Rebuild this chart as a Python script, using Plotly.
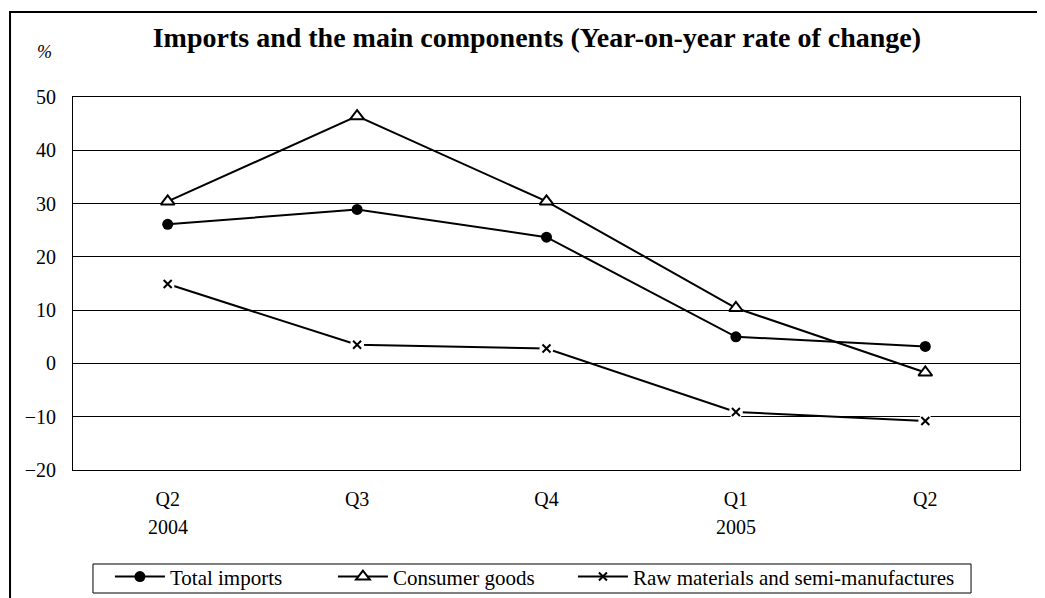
import plotly.graph_objects as go

categories = ["Q2 2004", "Q3 2004", "Q4 2004", "Q1 2005", "Q2 2005"]
tick_labels = ["Q2", "Q3", "Q4", "Q1", "Q2"]
year_labels = {"Q2 2004": "2004", "Q1 2005": "2005"}

total_imports = [26.1, 28.9, 23.7, 5.0, 3.2]
consumer_goods = [30.4, 46.4, 30.4, 10.4, -1.7]
raw_materials = [14.9, 3.5, 2.8, -9.1, -10.8]

FONT = "Liberation Serif, Times New Roman, serif"
FS = 20

fig = go.Figure()
fig.add_trace(go.Scatter(
    x=categories, y=total_imports, name="Total imports", mode="lines+markers",
    line=dict(color="black", width=2), legendwidth=158,
    marker=dict(symbol="circle", size=11, color="black"),
))
fig.add_trace(go.Scatter(
    x=categories, y=consumer_goods, name="Consumer goods", mode="lines+markers",
    line=dict(color="black", width=2), legendwidth=175,
    marker=dict(symbol="triangle-up", size=12, color="white", line=dict(width=2, color="black")),
))
fig.add_trace(go.Scatter(
    x=categories, y=raw_materials, name="Raw materials and semi-manufactures",
    mode="lines+markers", legendwidth=318,
    line=dict(color="black", width=2),
    marker=dict(symbol="x-thin", size=8, color="black", line=dict(width=2, color="black")),
))
# white halo behind the x markers, then the markers again on top
fig.add_trace(go.Scatter(
    x=categories, y=raw_materials, mode="markers", showlegend=False, hoverinfo="skip",
    marker=dict(symbol="circle", size=14, color="white"),
))
fig.add_trace(go.Scatter(
    x=categories, y=raw_materials, mode="markers", showlegend=False, hoverinfo="skip",
    marker=dict(symbol="x-thin", size=8, color="black", line=dict(width=2, color="black")),
))

annotations = [
    dict(text="<i>%</i>", x=-0.03, y=1.12, xref="paper", yref="paper", showarrow=False,
         font=dict(family=FONT, size=18, color="black"), xanchor="center", yanchor="middle"),
]
for cat, yr in year_labels.items():
    annotations.append(dict(text=yr, x=cat, y=-0.153, xref="x", yref="paper",
                            showarrow=False, xanchor="center", yanchor="middle",
                            font=dict(family=FONT, size=FS, color="black")))

fig.update_layout(
    width=1037, height=590,
    margin=dict(l=65, r=25, t=89, b=128, autoexpand=False),
    paper_bgcolor="white", plot_bgcolor="white",
    font=dict(family=FONT, size=FS, color="black"),
    title=dict(text="<b>Imports and the main components (Year-on-year rate of change)</b>",
               x=0.510, xanchor="center", y=0.951, yanchor="middle", yref="container",
               font=dict(family=FONT, size=28, color="black")),
    xaxis=dict(
        tickmode="array", tickvals=categories, ticktext=tick_labels,
        range=[-0.5, 4.5], showgrid=False, showline=True, linecolor="black",
        linewidth=1, mirror=True, ticks="", ticklabelstandoff=11,
        tickfont=dict(family=FONT, size=FS, color="black"),
    ),
    yaxis=dict(
        range=[-20, 50], dtick=10, showgrid=True, gridcolor="black", gridwidth=1,
        showline=True, linecolor="black", linewidth=1, mirror=True, ticks="",
        zeroline=False, ticklabelstandoff=12,
        tickfont=dict(family=FONT, size=FS, color="black"),
    ),
    legend=dict(
        orientation="h", x=0.039, xanchor="left", y=-0.2316, yanchor="top",
        borderwidth=0, itemwidth=50, bgcolor="rgba(0,0,0,0)",
        font=dict(family=FONT, size=21, color="black"),
        tracegroupgap=0,
    ),
    annotations=annotations,
    shapes=[
        dict(type="rect", xref="paper", yref="paper",
             x0=-0.0665, x1=1.0253, y0=-0.36, y1=1.228,
             line=dict(color="black", width=2), fillcolor="rgba(0,0,0,0)", layer="below"),
        dict(type="rect", xref="paper", yref="paper",
             x0=0.0211, x1=0.9483, y0=-0.3298, y1=-0.252,
             line=dict(color="black", width=1), fillcolor="rgba(0,0,0,0)", layer="below"),
    ],
)

fig.write_html("out.html")
